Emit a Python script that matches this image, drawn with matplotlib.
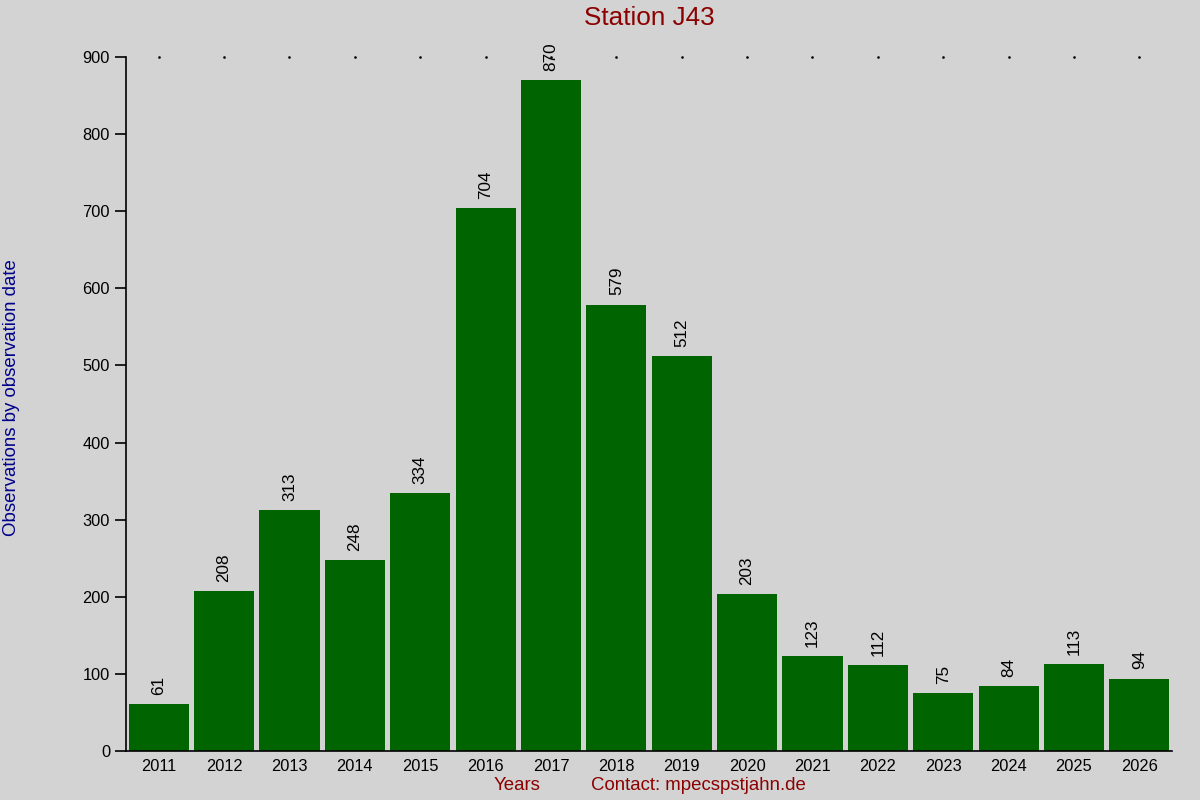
import matplotlib as mpl
mpl.use('Agg')
import matplotlib.pyplot as plt
import numpy as np

years = ['2011', '2012', '2013', '2014', '2015', '2016', '2017', '2018',
         '2019', '2020', '2021', '2022', '2023', '2024', '2025', '2026']
counts = [61, 208, 313, 248, 334, 704, 870, 579, 512, 203, 123, 112, 75, 84, 113, 94]
yticks = [0, 100, 200, 300, 400, 500, 600, 700, 800, 900]

bg = '#d3d3d3'
plt.rcParams['font.family'] = ['Liberation Sans', 'DejaVu Sans']

fig = plt.figure(figsize=(12, 8), dpi=100, facecolor=bg)
ax = fig.add_axes([0.105, 0.06125, 0.8717, 0.8675], facecolor=bg)

x = np.arange(len(years))
ax.bar(x, counts, width=0.92, color='#006400')
for xi, c in zip(x, counts):
    ax.annotate(str(c), (xi, c), xytext=(0, 6.5), textcoords='offset points',
                rotation=90, ha='center', va='bottom', fontsize=12.3)

# small dots along the top edge
ax.plot(x, [900] * len(x), linestyle='none', marker='s', markersize=0.8,
        color='black', clip_on=False)

ax.set_xlim(-0.5, len(years) - 0.5)
ax.set_ylim(0, 900)
ax.set_yticks(yticks)
ax.set_xticks(x)
ax.set_xticklabels(years, fontsize=11.8)
ax.tick_params(axis='x', length=0, pad=6)
ax.tick_params(axis='y', length=8, width=1.2, labelsize=11.8, direction='out')
for s in ['top', 'right']:
    ax.spines[s].set_visible(False)
ax.spines['left'].set_linewidth(1.2)
ax.spines['bottom'].set_linewidth(1.2)

fig.text(0.5408, 0.977, 'Station J43', ha='center', va='center',
         fontsize=18.8, color='#8b0000')
fig.text(0.010, 0.5025, 'Observations by observation date', rotation=90,
         ha='center', va='center', fontsize=13.4, color='#00008b')
fig.text(0.431, 0.018, 'Years', ha='center', va='center',
         fontsize=13.4, color='#8b0000')
fig.text(0.5817, 0.018, 'Contact: mpecspstjahn.de', ha='center', va='center',
         fontsize=13.4, color='#8b0000')

fig.savefig('out.png', dpi=100, facecolor=bg)
plt.close(fig)
